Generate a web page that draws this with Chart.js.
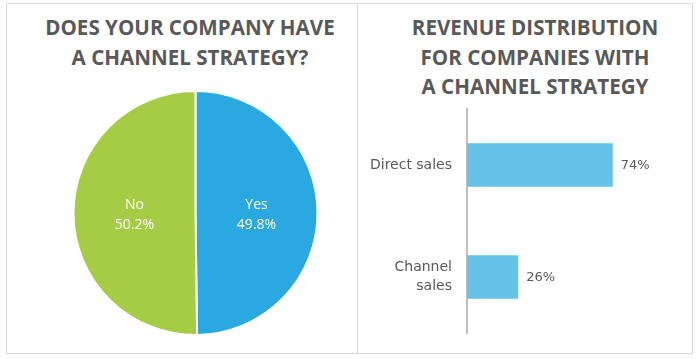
<!DOCTYPE html>
<html>
<head>
<meta charset="utf-8">
<script src="https://cdn.jsdelivr.net/npm/chart.js@4"></script>
<style>
  body { margin: 0; background: #fff; font-family: "Open Sans", sans-serif; }
  #frame { position: absolute; left: 6px; top: 3px; width: 685px; height: 349px; border: 1px solid #d9d9d9; }
  #divider { position: absolute; left: 357px; top: 3px; width: 1px; height: 350px; background: #d9d9d9; }
  .title { position: absolute; color: #595959; font-weight: bold; font-size: 20.6px; line-height: 29.5px; text-align: center; }
  #pieWrap { position: absolute; left: 7px; top: 85px; width: 349px; height: 262px; }
  #barWrap { position: absolute; left: 358px; top: 100px; width: 333px; height: 245px; }
</style>
</head>
<body>
<div id="frame"></div>
<div id="divider"></div>
<div class="title" style="left:20px; top:13px; width:340px;">DOES YOUR COMPANY HAVE<br>A CHANNEL STRATEGY?</div>
<div class="title" style="left:366px; top:13px; width:338px;">REVENUE DISTRIBUTION<br>FOR COMPANIES WITH<br>A CHANNEL STRATEGY</div>
<div id="pieWrap"><canvas id="pieChart"></canvas></div>
<div id="barWrap"><canvas id="barChart"></canvas></div>
<script>
const pieLabels = ['Yes', 'No'];
const pieValues = [49.8, 50.2];
const pieColors = ['#29a9e0', '#a6cc46'];

const barLabels = ['Direct sales', ['Channel', 'sales']];
const barValues = [74, 26];

// label plugin: pie gets "name\nvalue%", bars get "value%" right of bar
const valueLabels = {
    id: 'valueLabels',
    afterDatasetsDraw(chart) {
        const ctx = chart.ctx;
        const meta = chart.getDatasetMeta(0);
        const data = chart.data.datasets[0].data;
        ctx.save();
        if (chart.config.type === 'pie') {
            ctx.fillStyle = '#ffffff';
            ctx.font = '14px "Open Sans"';
            ctx.textAlign = 'center';
            ctx.textBaseline = 'middle';
            meta.data.forEach((arc, i) => {
                const p = arc.getCenterPoint();
                ctx.fillText(chart.data.labels[i], p.x, p.y - 8);
                ctx.fillText(data[i].toFixed(1) + '%', p.x, p.y + 12);
            });
        } else {
            ctx.fillStyle = '#595959';
            ctx.font = '13px "DejaVu Sans"';
            ctx.textAlign = 'left';
            ctx.textBaseline = 'middle';
            meta.data.forEach((bar, i) => {
                ctx.fillText(data[i] + '%', bar.x + 8, bar.y + 1);
            });
        }
        ctx.restore();
    }
};

new Chart(document.getElementById('pieChart'), {
    type: 'pie',
    data: {
        labels: pieLabels,
        datasets: [{
            data: pieValues,
            backgroundColor: pieColors,
            borderColor: '#ffffff',
            borderWidth: 2
        }]
    },
    options: {
        responsive: true,
        maintainAspectRatio: false,
        animation: false,
        layout: { padding: { top: 5, bottom: 11, left: 28, right: 0 } },
        plugins: { legend: { display: false }, tooltip: { enabled: false } }
    },
    plugins: [valueLabels]
});

new Chart(document.getElementById('barChart'), {
    type: 'bar',
    data: {
        labels: barLabels,
        datasets: [{
            data: barValues,
            backgroundColor: '#66c2e8',
            barPercentage: 0.39,
            categoryPercentage: 1
        }]
    },
    options: {
        indexAxis: 'y',
        responsive: true,
        maintainAspectRatio: false,
        animation: false,
        layout: { padding: { top: 9, bottom: 12, left: 0, right: 27 } },
        scales: {
            x: { display: false, min: 0, max: 100 },
            y: {
                afterFit(scale) {
                    scale.width = 109;
                    scale.paddingTop = 0;
                    scale.paddingBottom = 0;
                },
                grid: { display: false, drawTicks: false },
                border: { display: true, color: '#bfbfbf', width: 2 },
                ticks: {
                    padding: 15,
                    color: '#595959',
                    font: { family: 'DejaVu Sans', size: 14, lineHeight: 1.4 }
                }
            }
        },
        plugins: { legend: { display: false }, tooltip: { enabled: false } }
    },
    plugins: [valueLabels]
});
</script>
</body>
</html>
